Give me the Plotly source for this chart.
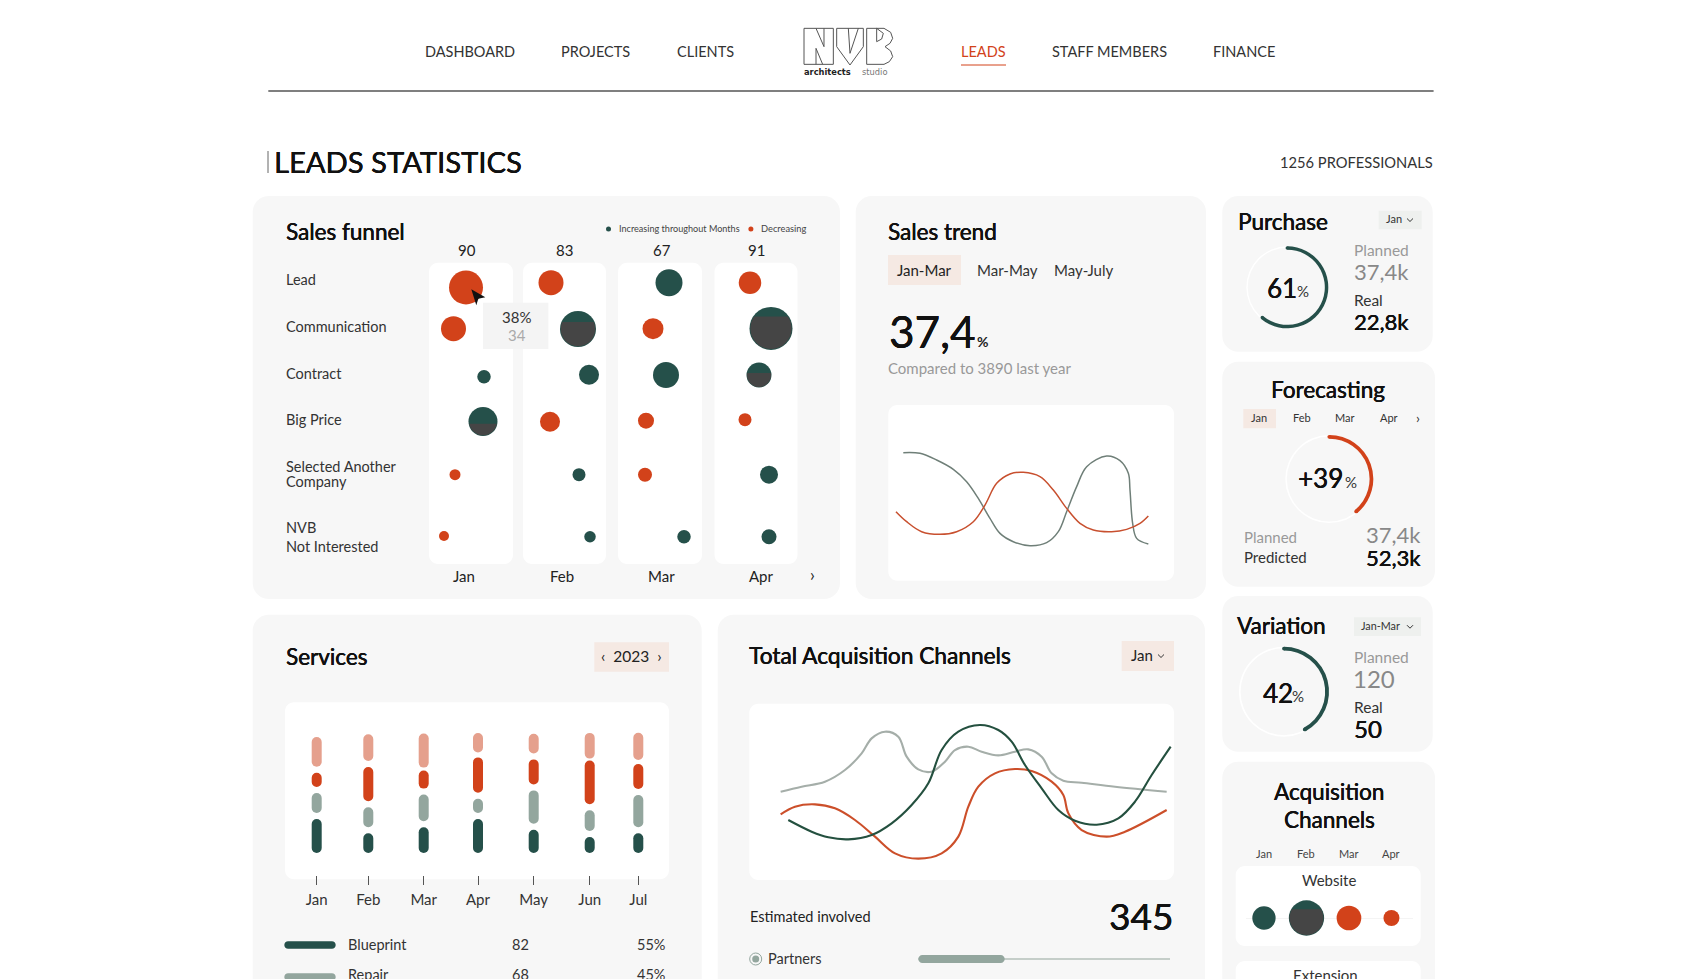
import plotly.graph_objects as go
import math

W, H = 1697, 979
FONT = "Lato"
GREEN = "#25504a"
ORANGE = "#d2421a"
PINK = "#e5a08d"
SAGE = "#93a69e"
CARD = "#f7f7f7"
TINT = "#f5e9e3"
DARK = "#454545"

# ---------- data ----------
funnel_stages = ["Lead", "Communication", "Contract", "Big Price", "Selected Another<br>Company", "NVB<br>Not Interested"]
funnel_months = ["Jan", "Feb", "Mar", "Apr"]
funnel_totals = [90, 83, 67, 91]
funnel_x_jan = [37, 24.5, 55, 54, 26, 15]
funnel_x_feb = [122, 149, 160, 121, 150, 161]
funnel_x_mar = [240, 224, 237, 217, 216, 255]
funnel_x_apr = [321, 342, 330, 316, 340, 340]
funnel_y_jan = [24.7, 66, 114, 158.7, 212, 273.3]
funnel_y_feb = [20, 66.3, 112, 159, 212, 274]
funnel_y_mar = [20, 66, 112.3, 158, 212, 274]
funnel_y_apr = [20, 65.7, 112.3, 157, 212, 274]
funnel_size_jan = [34, 25, 13.5, 29, 11, 10]
funnel_size_feb = [25, 36, 20, 20, 13, 11.5]
funnel_size_mar = [27, 21, 26, 16, 14, 13.5]
funnel_size_apr = [22.5, 43, 25, 13, 18, 15]
funnel_up_jan = [0, 0, 1, 1, 0, 0]
funnel_up_feb = [0, 1, 1, 0, 1, 1]
funnel_up_mar = [1, 0, 1, 0, 0, 1]
funnel_up_apr = [0, 1, 1, 0, 1, 1]
funnel_fill_jan = [0, 0, 0, 0.42, 0, 0]
funnel_fill_feb = [0, 0.70, 0, 0, 0, 0]
funnel_fill_mar = [0, 0, 0, 0, 0, 0]
funnel_fill_apr = [0, 0.79, 0.58, 0, 0, 0]

trend_gray_x = [45, 95, 145, 195, 235, 270, 305, 335, 375, 425, 475, 510, 535, 565, 595, 655, 695, 720, 725, 733, 745, 780]
trend_gray_y = [384, 382, 362, 334, 297, 247, 187, 142, 117, 105, 114, 147, 207, 282, 342, 374, 360, 322, 272, 172, 127, 110]
trend_red_x = [23, 55, 100, 155, 205, 255, 290, 325, 365, 405, 455, 495, 535, 575, 615, 670, 715, 755, 780]
trend_red_y = [207, 177, 147, 139, 147, 177, 227, 292, 320, 325, 312, 272, 217, 172, 152, 147, 154, 172, 194]

service_months = ["Jan", "Feb", "Mar", "Apr", "May", "Jun", "Jul"]
service_pos = [31.7, 83.3, 138.7, 193, 248.7, 304.7, 353.3]
service_blueprint = [34, 19.7, 25.7, 34, 23.3, 16, 19.7]
service_repair = [20, 20, 26.7, 14.3, 33.3, 20.7, 32.3]
service_design = [14.3, 34.3, 18, 35.3, 25, 43.7, 25]
service_other = [29.7, 26.7, 34, 19.3, 19.7, 25.7, 27.3]
service_gap_top = [6, 6, 3, 5, 6, 2, 4]
SERVICE_GAP = 6

acq_gray_x = [94, 157, 227, 287, 337, 367, 407, 447, 472, 507, 547, 587, 617, 657, 697, 747, 797, 837, 877, 907, 942, 997, 1097, 1252]
acq_gray_y = [265, 280, 295, 330, 380, 425, 445, 430, 370, 332, 325, 355, 390, 400, 385, 374, 385, 392, 370, 320, 298, 292, 280, 265]
acq_green_x = [117, 187, 237, 297, 367, 427, 487, 537, 577, 627, 692, 747, 787, 827, 877, 927, 977, 1042, 1107, 1157, 1207, 1264]
acq_green_y = [180, 145, 128, 122, 135, 170, 225, 290, 390, 445, 465, 450, 415, 345, 275, 210, 178, 166, 185, 235, 315, 400]
acq_red_x = [94, 137, 197, 257, 317, 377, 437, 507, 577, 627, 657, 687, 737, 797, 847, 907, 942, 957, 997, 1072, 1127, 1252]
acq_red_y = [197, 220, 227, 215, 180, 130, 80, 64, 80, 130, 220, 280, 320, 333, 327, 295, 255, 200, 150, 130, 145, 210]

gauge_purchase = 61
gauge_forecast = 39
gauge_variation = 42

website_months = ["Jan", "Feb", "Mar", "Apr"]
website_size = [23.3, 35.3, 24.7, 16]
website_up = [1, 1, 0, 0]
website_fill = [0, 0.76, 0, 0]

# ---------- helpers ----------
def fx(x): return x / W
def fy(y): return 1 - y / H

shapes = []
ann = []

def P(x, y): return f"{fx(x):.5f},{fy(y):.5f}"

def rrect(x0, y0, x1, y1, color, r=16):
    k = r * 0.45
    y1c = y1
    d = (f"M{P(x0 + r, y0)} L{P(x1 - r, y0)} C{P(x1 - k, y0)} {P(x1, y0 + k)} {P(x1, y0 + r)} "
         f"L{P(x1, y1c - r)} C{P(x1, y1c - k)} {P(x1 - k, y1c)} {P(x1 - r, y1c)} "
         f"L{P(x0 + r, y1c)} C{P(x0 + k, y1c)} {P(x0, y1c - k)} {P(x0, y1c - r)} "
         f"L{P(x0, y0 + r)} C{P(x0, y0 + k)} {P(x0 + k, y0)} {P(x0 + r, y0)} Z")
    shapes.append(dict(type="path", path=d, xref="paper", yref="paper", fillcolor=color,
                       line=dict(width=0), layer="below"))

def box(x0, y0, x1, y1, color, layer="below"):
    shapes.append(dict(type="rect", x0=fx(x0), x1=fx(x1), y0=fy(y0), y1=fy(y1), xref="paper", yref="paper",
                       fillcolor=color, line=dict(width=0), layer=layer))

def hline(x0, x1, y, color, width=1):
    shapes.append(dict(type="line", x0=fx(x0), x1=fx(x1), y0=fy(y), y1=fy(y), xref="paper", yref="paper",
                       line=dict(color=color, width=width), layer="below"))

def poly(pts, color=None, line=None, lw=1, close=True, layer="above"):
    d = "M" + " L".join(P(x, y) for x, y in pts) + (" Z" if close else "")
    shapes.append(dict(type="path", path=d, xref="paper", yref="paper",
                       fillcolor=color if color else "rgba(0,0,0,0)",
                       line=dict(color=line if line else "rgba(0,0,0,0)", width=lw if line else 0), layer=layer))

def chev(x, y, s=3, color="#333"):
    poly([(x - s, y - s / 2), (x, y + s / 2), (x + s, y - s / 2)], line=color, lw=1, close=False)

def T(text, x, y, size, color="#222", anchor="left", weight=400, family=FONT):
    f = dict(family=family, size=size, color=color)
    if weight == 500:   # medium cut is not installed: thicken the regular one a little
        f["shadow"] = f"0.25px 0 0 {color}, -0.1px 0 0 {color}"
    elif weight != 400:
        f["weight"] = weight
    ann.append(dict(text=text, x=fx(x), y=fy(y - 1), xref="paper", yref="paper", showarrow=False,
                    xanchor=anchor, yanchor="middle", align=anchor, font=f, borderpad=0, borderwidth=0))

def seg_path(d, frac):
    """Circle segment covering the bottom `frac` of a circle of diameter d (pixels)."""
    r = d / 2
    top = -r + (1 - frac) * d
    a0 = math.asin(max(-1, min(1, top / r)))
    pts = []
    n = 28
    for i in range(n + 1):
        a = a0 + (math.pi - 2 * a0) * i / n
        pts.append((r * math.cos(a), r * math.sin(a)))
    return "M" + " L".join(f"{px:.2f},{-py:.2f}" for px, py in pts) + " Z"

def overlay(xref, yref, x, y, d, frac):
    shapes.append(dict(type="path", xref=xref, yref=yref, xsizemode="pixel", ysizemode="pixel",
                       xanchor=x, yanchor=y, path=seg_path(d * 0.96, frac), fillcolor=DARK,
                       line=dict(width=0), layer="above"))

def dom_x(a, b): return [fx(a), fx(b)]
def dom_y(top, bottom): return [fy(bottom), fy(top)]

hidden = dict(visible=False, fixedrange=True)
fig = go.Figure()
layout_axes = {}

# ---------- cards ----------
rrect(252.7, 196, 840, 599, CARD)
rrect(855.7, 196, 1206, 599, CARD)
rrect(1222.3, 196, 1432.7, 351.7, CARD)
rrect(1222.3, 361.7, 1435, 586.7, CARD)
rrect(1222.3, 596, 1432.7, 751.7, CARD)
rrect(1222.3, 761.7, 1435, 1010, CARD)
rrect(252.7, 614.7, 701.7, 1010, CARD)
rrect(717.7, 614.7, 1205, 1010, CARD)

# ---------- header ----------
for label, cx, col in [("DASHBOARD", 469.6, "#333"), ("PROJECTS", 595, "#333"), ("CLIENTS", 705, "#333"),
                       ("LEADS", 984, ORANGE), ("STAFF MEMBERS", 1109, "#333"), ("FINANCE", 1244, "#333")]:
    T(label, cx, 52.5, 14.5, col, "center")
hline(961, 1006, 65, ORANGE, 1)
hline(268.3, 1433.6, 91, "#555", 1.3)

def L(zx, zy): return (780 + zx / 3, 15 + zy / 3)
LOGO = "#555"
for pts, closed in [
    ([(72, 40), (160, 40), (160, 148), (72, 148)], True),
    ([(108, 40), (132, 95), (132, 40)], False),
    ([(108, 148), (108, 100), (128, 148)], False),
    ([(170, 40), (250, 40), (250, 95), (210, 150), (170, 95)], True),
    ([(205, 40), (210, 115), (235, 40)], False),
    ([(260, 40), (312, 40), (332, 52), (338, 70), (330, 85), (315, 95), (332, 108), (338, 125), (328, 140), (312, 148), (260, 148)], True),
    ([(290, 40), (290, 80), (305, 72), (310, 55), (290, 40)], False),
]:
    poly([L(*p) for p in pts], line=LOGO, lw=1, close=closed)
T("<b>architects</b>", 803.5, 73.5, 8.3, "#222", family="DejaVu Sans")
T("studio", 862, 73.5, 8.3, "#777", family="DejaVu Sans")

shapes.append(dict(type="line", x0=fx(268), x1=fx(268), y0=fy(151), y1=fy(173), xref="paper", yref="paper",
                   line=dict(color="#666", width=1)))
T("LEADS STATISTICS", 273.7, 162, 29.2, "#111", weight=500)
T("1256 PROFESSIONALS", 1433, 162.5, 14.7, "#333", "right")

# ---------- sales funnel ----------
for a, b in [(429, 513), (523, 606), (618, 702), (714.5, 797.5)]:
    rrect(a, 262.7, b, 564, "#ffffff", r=9)
T("Sales funnel", 285.5, 232.3, 22.5, "#111", weight=500)
RX = 286
for label, y in zip(funnel_stages[:4], [280.5, 327.2, 374.2, 420.8]):
    T(label, RX, y, 14.5, "#333")
T("Selected Another", RX, 467.8, 14.5, "#333")
T("Company", RX, 482.5, 14.5, "#333")
T("NVB", RX, 528.8, 14.5, "#333")
T("Not Interested", RX, 547.2, 14.5, "#333")
for v, x in zip(funnel_totals, [467.4, 564.8, 662, 756.6]):
    T(str(v), x, 250.5, 15, "#222", "center")
for m, x in zip(funnel_months, [464, 561.5, 661.5, 761]):
    T(m, x, 577, 15, "#222", "center")
T("›", 812, 575, 17, "#222", "center")
T("Increasing throughout Months", 618.8, 229.3, 9.1, "#444")
T("Decreasing", 760.8, 229.3, 9.3, "#444")
box(483, 302.7, 548.4, 349, "#f4f4f4")
T("38%", 516.5, 317.8, 15, "#333", "center")
T("34", 516.5, 335.5, 15, "#aaa", "center")

F_X0, F_X1, F_Y0, F_Y1 = 429, 797.5, 262.7, 564
layout_axes["xaxis"] = dict(hidden, domain=dom_x(F_X0, F_X1), range=[0, F_X1 - F_X0], anchor="y")
layout_axes["yaxis"] = dict(hidden, domain=dom_y(F_Y0, F_Y1), range=[F_Y1 - F_Y0, 0], anchor="x")
for m, xs, ys, ss, ups, fills in [
    ("Jan", funnel_x_jan, funnel_y_jan, funnel_size_jan, funnel_up_jan, funnel_fill_jan),
    ("Feb", funnel_x_feb, funnel_y_feb, funnel_size_feb, funnel_up_feb, funnel_fill_feb),
    ("Mar", funnel_x_mar, funnel_y_mar, funnel_size_mar, funnel_up_mar, funnel_fill_mar),
    ("Apr", funnel_x_apr, funnel_y_apr, funnel_size_apr, funnel_up_apr, funnel_fill_apr),
]:
    fig.add_trace(go.Scatter(x=xs, y=ys, mode="markers", name=m, hoverinfo="skip", showlegend=False,
                             marker=dict(size=ss, sizemode="diameter", opacity=1, line=dict(width=0),
                                         color=[GREEN if u else ORANGE for u in ups]),
                             xaxis="x", yaxis="y"))
    for x, y, s, f in zip(xs, ys, ss, fills):
        if f:
            overlay("x", "y", x, y, s, f)

# legend dots (in the chart's own legend strip)
layout_axes["xaxis7"] = dict(hidden, domain=dom_x(600, 760), range=[600, 760], anchor="y7")
layout_axes["yaxis7"] = dict(hidden, domain=dom_y(224, 234), range=[0, 1], anchor="x7")
fig.add_trace(go.Scatter(x=[608.5, 750.9], y=[0.5, 0.5], mode="markers", hoverinfo="skip", showlegend=False,
                         marker=dict(size=5, opacity=1, color=[GREEN, ORANGE]), xaxis="x7", yaxis="y7"))

# cursor
c0x, c0y = 471.3, 289.3
poly([(c0x, c0y), (c0x + 14, c0y + 8), (c0x + 7, c0y + 9.5), (c0x + 5, c0y + 16)], color="#111")

# ---------- sales trend ----------
T("Sales trend", 888.3, 232.3, 22.5, "#111", weight=500)
box(888, 255, 961, 285, TINT)
T("Jan-Mar", 924.3, 270.5, 15, "#222", "center")
T("Mar-May", 1007.7, 270.5, 15, "#333", "center")
T("May-July", 1083.3, 270.5, 15, "#333", "center")
T("37,4", 889, 331.7, 44, "#111", weight=500)
T("%", 976.7, 342.3, 14, "#222", weight=700)
T("Compared to 3890 last year", 888.3, 369, 15, "#999")
rrect(888.3, 405, 1174, 580.7, "#ffffff", r=9)
layout_axes["xaxis2"] = dict(hidden, domain=dom_x(888.3, 1174), range=[0, 857], anchor="y2")
layout_axes["yaxis2"] = dict(hidden, domain=dom_y(405, 580.7), range=[0, 527], anchor="x2")
fig.add_trace(go.Scatter(x=trend_gray_x, y=trend_gray_y, mode="lines", hoverinfo="skip", showlegend=False,
                         line=dict(color="#6f7f78", width=1.5, shape="spline", smoothing=1.0), xaxis="x2", yaxis="y2"))
fig.add_trace(go.Scatter(x=trend_red_x, y=trend_red_y, mode="lines", hoverinfo="skip", showlegend=False,
                         line=dict(color="#c8502f", width=1.5, shape="spline", smoothing=1.0), xaxis="x2", yaxis="y2"))

# ---------- gauges ----------
def gauge(cx, cy, r, value, color):
    d = [[fx(cx - r), fx(cx + r)], [fy(cy + r), fy(cy - r)]]
    dom = dict(x=d[0], y=d[1])
    hole = 0.915
    fig.add_trace(go.Pie(values=[100], hole=0.965, sort=False, textinfo="none", hoverinfo="skip", showlegend=False,
                         marker=dict(colors=["#ffffff"], line=dict(width=0)), domain=dom))
    fig.add_trace(go.Pie(values=[value, 100 - value], hole=hole, sort=False, direction="clockwise", rotation=0,
                         textinfo="none", hoverinfo="skip", showlegend=False,
                         marker=dict(colors=[color, "rgba(0,0,0,0)"], line=dict(width=0)), domain=dom))
    # rounded ends of the arc
    t = r * (1 - hole)
    rm = r - t / 2
    for ang in (0, value / 100 * 2 * math.pi):
        px_, py_ = cx + rm * math.sin(ang), cy - rm * math.cos(ang)
        shapes.append(dict(type="circle", xref="paper", yref="paper", x0=fx(px_ - t / 2), x1=fx(px_ + t / 2),
                           y0=fy(py_ + t / 2), y1=fy(py_ - t / 2), fillcolor=color, line=dict(width=0), layer="above"))

gauge(1287.3, 287.3, 41, gauge_purchase, GREEN)
gauge(1329.3, 479, 44, gauge_forecast, ORANGE)
gauge(1284, 691.7, 45, gauge_variation, GREEN)

T("Purchase", 1238.3, 222.7, 22.5, "#111", weight=500)
box(1378.7, 210.7, 1421.7, 229.3, "#eef0ee")
T("Jan", 1394, 220, 11, "#333", "center")
chev(1410, 220)
T("61", 1282, 289, 26, "#111", "center", 500)
T("%", 1297, 292, 15, "#333")
T("Planned", 1354, 251.3, 15.5, "#999")
T("37,4k", 1354, 272.3, 22, "#888")
T("Real", 1354, 300.7, 15.5, "#333")
T("22,8k", 1354, 322.3, 22, "#111", weight=500)

T("Forecasting", 1327.7, 390, 22.5, "#111", "center", 500)
box(1243.3, 409, 1276, 428.3, TINT)
for m, x in zip(funnel_months, [1259, 1301.7, 1345, 1389]):
    T(m, x, 419, 11, "#333", "center")
T("›", 1417.7, 418, 14, "#333", "center")
T("+39", 1320.7, 479, 26, "#111", "center", 500)
T("%", 1345, 483, 15, "#333")
T("Planned", 1244, 537.7, 15, "#999")
T("37,4k", 1421, 535, 22, "#888", "right")
T("Predicted", 1244, 558.3, 15, "#333")
T("52,3k", 1421, 558, 22, "#111", "right", 500)

T("Variation", 1236.7, 626.7, 22.5, "#111", weight=500)
box(1354, 617.3, 1421, 636, "#eef0ee")
T("Jan-Mar", 1380.5, 626.7, 10.8, "#333", "center")
chev(1410, 626.7)
T("42", 1277.7, 694, 26, "#111", "center", 500)
T("%", 1292.3, 696.7, 15, "#333")
T("Planned", 1354, 658.3, 15.5, "#999")
T("120", 1353, 679.3, 24, "#888")
T("Real", 1354.3, 707.7, 15.5, "#333")
T("50", 1354.3, 729, 24, "#111", weight=500)

# ---------- acquisition channels ----------
T("Acquisition", 1329, 792.7, 22.5, "#111", "center", 500)
T("Channels", 1329, 820, 22.5, "#111", "center", 500)
for m, x in zip(website_months, [1263.7, 1305.7, 1349, 1391]):
    T(m, x, 854.3, 11, "#444", "center")
rrect(1235.7, 866, 1420.7, 946, "#ffffff", r=9)
rrect(1235.7, 961, 1420.7, 1010, "#ffffff", r=9)
T("Website", 1329, 880.7, 15, "#333", "center")
T("Extension", 1325.7, 976, 15, "#333", "center")
layout_axes["xaxis5"] = dict(hidden, domain=dom_x(1245.7, 1412.7), range=[-0.43, 3.5], anchor="y5")
layout_axes["yaxis5"] = dict(fixedrange=True, domain=dom_y(895, 941), range=[-1, 1], anchor="x5", showgrid=False,
                             showticklabels=False, ticks="", showline=False,
                             zeroline=True, zerolinecolor="#f4f4f4", zerolinewidth=1)
web_pos = list(range(len(website_months)))
fig.add_trace(go.Scatter(x=web_pos, y=[0] * 4, mode="markers", hoverinfo="skip", showlegend=False,
                         marker=dict(size=website_size, sizemode="diameter", opacity=1, line=dict(width=0),
                                     color=[GREEN if u else ORANGE for u in website_up]),
                         xaxis="x5", yaxis="y5"))
for x, s, f in zip(web_pos, website_size, website_fill):
    if f:
        overlay("x5", "y5", x, 0, s, f)

# ---------- services ----------
T("Services", 285.7, 657.7, 22.5, "#111", weight=500)
box(594.3, 642.3, 669, 671.7, TINT)
T("‹  2023  ›", 631.5, 656.7, 15.5, "#222", "center")
rrect(285, 702.3, 669, 879.3, "#ffffff", r=9)
layout_axes["xaxis3"] = dict(fixedrange=True, domain=dom_x(285, 669), range=[0, 384], anchor="y3",
                             tickmode="array", tickvals=service_pos, ticktext=service_months,
                             ticks="outside", ticklen=9, tickwidth=1, tickcolor="#555", showgrid=False,
                             zeroline=False, showline=False, ticklabelstandoff=2,
                             tickfont=dict(family=FONT, size=15, color="#333"))
layout_axes["yaxis3"] = dict(hidden, domain=dom_y(702.3, 875), range=[-22, 150.7], anchor="x3")
base = [0] * 7
for i, (vals, col) in enumerate([(service_blueprint, GREEN), (service_repair, SAGE),
                                 (service_design, ORANGE), (service_other, PINK)]):
    gaps = service_gap_top if i == 3 else [SERVICE_GAP] * 7
    if i:
        base = [b + g for b, g in zip(base, gaps)]
    fig.add_trace(go.Bar(x=service_pos, y=vals, base=base, width=10, hoverinfo="skip", showlegend=False,
                         marker=dict(color=col, cornerradius=5, line=dict(width=0)), xaxis="x3", yaxis="y3"))
    base = [b + v for b, v in zip(base, vals)]
fig.update_layout(barmode="overlay")

def swatch(x0, x1, y, h, col):
    rrect(x0, y - h / 2, x1, y + h / 2, col, r=h / 2)

swatch(284.3, 335.7, 945, 7.5, GREEN)
swatch(284.3, 335.7, 977, 7.5, SAGE)
T("Blueprint", 347.7, 945.5, 14.5, "#333")
T("82", 520, 945.5, 14.5, "#333", "center")
T("55%", 665.3, 945.5, 14.5, "#333", "right")
T("Repair", 347.7, 975.5, 14.5, "#333")
T("68", 520, 975.5, 14.5, "#333", "center")
T("45%", 665.3, 975.5, 14.5, "#333", "right")

# ---------- total acquisition ----------
T("Total Acquisition Channels", 749, 656.7, 22.7, "#111", weight=500)
box(1121.7, 641, 1174, 671, TINT)
T("Jan", 1141.7, 656, 15, "#222", "center")
chev(1161, 656)
rrect(749.3, 703.7, 1174, 880, "#ffffff", r=9)
layout_axes["xaxis4"] = dict(hidden, domain=dom_x(749.3, 1174), range=[0, 1274], anchor="y4")
layout_axes["yaxis4"] = dict(hidden, domain=dom_y(703.7, 880), range=[0, 529], anchor="x4")
for xs, ys, col in [(acq_gray_x, acq_gray_y, "#a5aea9"), (acq_red_x, acq_red_y, "#cc4f2a"), (acq_green_x, acq_green_y, "#24503f")]:
    fig.add_trace(go.Scatter(x=xs, y=ys, mode="lines", hoverinfo="skip", showlegend=False,
                             line=dict(color=col, width=2.1, shape="spline", smoothing=1.0), xaxis="x4", yaxis="y4"))
T("Estimated involved", 749.5, 917.7, 14.5, "#222")
T("345", 1172.7, 916, 37, "#111", "right", 500)
T("Partners", 768, 959.5, 14.5, "#333")
hline(918.3, 1170, 959, "#b5c0ba", 1.3)
swatch(918.3, 1004.7, 959, 8, SAGE)
shapes.append(dict(type="circle", xref="paper", yref="paper", x0=fx(749.7), x1=fx(761.7), y0=fy(965), y1=fy(953),
                   line=dict(color=SAGE, width=1), fillcolor="rgba(0,0,0,0)", layer="above"))
shapes.append(dict(type="circle", xref="paper", yref="paper", x0=fx(752.2), x1=fx(759.2), y0=fy(962.5), y1=fy(955.5),
                   line=dict(width=0), fillcolor=SAGE, layer="above"))

fig.update_layout(width=W, height=H, margin=dict(l=0, r=0, t=0, b=0), paper_bgcolor="#ffffff", plot_bgcolor="rgba(0,0,0,0)",
                  showlegend=False, shapes=shapes, annotations=ann, font=dict(family=FONT), **layout_axes)

fig.write_html("out.html", config=dict(displayModeBar=False),
               post_script="document.body.style.margin='0';document.documentElement.style.overflow='hidden';")
